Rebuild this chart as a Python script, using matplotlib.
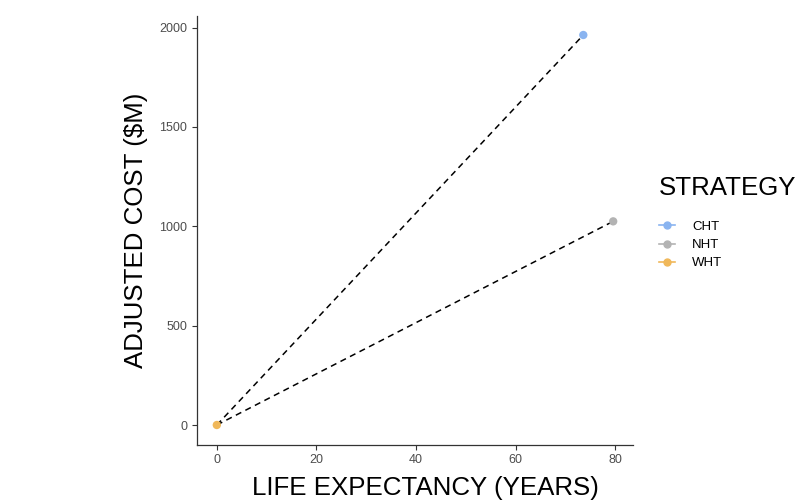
import matplotlib
matplotlib.use("Agg")
import matplotlib.pyplot as plt
from matplotlib.lines import Line2D

strategies = ["CHT", "NHT", "WHT"]
life_expectancy = [73.6, 79.6, 0.0]
adjusted_cost = [1963, 1025, 0]
colors = ["#8AB4F0", "#B3B3B3", "#F0B85A"]
x_ticks = [0, 20, 40, 60, 80]
y_ticks = [0, 500, 1000, 1500, 2000]

plt.rcParams['font.family'] = ['Liberation Sans', 'DejaVu Sans']

fig = plt.figure(figsize=(7.97, 5.04), dpi=100)
ax = fig.add_axes([197/797, 1-444.5/504, (633-197)/797, (444.5-15.5)/504])

# dashed frontier lines from reference strategy (WHT) to others
ref = strategies.index("WHT")
for i, s in enumerate(strategies):
    if i == ref:
        continue
    ax.plot([life_expectancy[ref], life_expectancy[i]],
            [adjusted_cost[ref], adjusted_cost[i]],
            linestyle=(0, (4, 3)), color="black", linewidth=1.1, zorder=2)

for i, s in enumerate(strategies):
    ax.scatter(life_expectancy[i], adjusted_cost[i], s=36, color=colors[i],
               zorder=3, edgecolors='none')

xmax = max(life_expectancy); xmin = min(life_expectancy)
ymax = max(adjusted_cost); ymin = min(adjusted_cost)
ax.set_xlim(xmin - 0.05*(xmax-xmin), xmax + 0.05*(xmax-xmin))
ax.set_ylim(ymin - 0.05*(ymax-ymin), ymax + 0.05*(ymax-ymin))
ax.set_xticks(x_ticks)
ax.set_yticks(y_ticks)
ax.tick_params(axis='both', colors="#333333", labelcolor="#4D4D4D",
               labelsize=9, length=3.5, width=0.8)
for sp in ["top", "right"]:
    ax.spines[sp].set_visible(False)
for sp in ["left", "bottom"]:
    ax.spines[sp].set_color("#333333")
    ax.spines[sp].set_linewidth(0.9)

ax.set_xlabel("LIFE EXPECTANCY (YEARS)", fontsize=18.6)
ax.xaxis.set_label_coords((425.5-197)/436, -(500-444.5)/429, transform=ax.transAxes)
ax.xaxis.label.set_va('bottom')
ax.set_ylabel("ADJUSTED COST ($M)", fontsize=18.6, labelpad=8)

handles = [Line2D([0], [0], color=colors[i], marker='o', markersize=5,
                  linewidth=1.2, label=s) for i, s in enumerate(strategies)]
leg = fig.legend(handles=handles, title="STRATEGY", loc="upper left",
                 bbox_to_anchor=(659/797, 1-176/504), frameon=False,
                 borderaxespad=0, borderpad=0,
                 fontsize=9.5, title_fontsize=18.6, handlelength=1.2,
                 handletextpad=1.3, labelspacing=0.45, alignment='left')
leg._legend_box.sep = 15

fig.savefig("out.png", dpi=100)
